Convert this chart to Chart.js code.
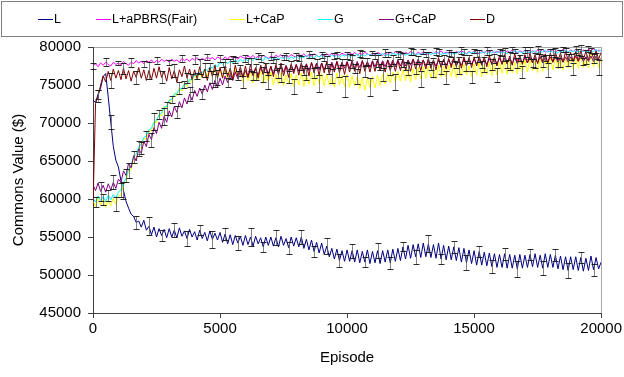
<!DOCTYPE html>
<html>
<head>
<meta charset="utf-8">
<script src="https://cdn.jsdelivr.net/npm/chart.js@4.4.0/dist/chart.umd.min.js"></script>
<style>
    body { margin: 0; background: #fff; }
    #wrap { position: relative; width: 624px; height: 377px; }
    #chart { position: absolute; left: 0; top: 0; }
    #legend {
        position: absolute; left: 1px; top: 1px; width: 622px; height: 36px;
        box-sizing: border-box; border: 1px solid #808080;
        font: 12.5px "Liberation Sans", Arial, sans-serif; color: #000;
    }
    .item { position: absolute; top: 9px; height: 16px; display: flex; align-items: center; white-space: nowrap; }
    .swatch { flex: none; width: 15px; height: 1px; margin-right: 1px; }
</style>
</head>
<body>
<div id="wrap">
    <canvas id="chart" width="624" height="377"></canvas>
    <div id="legend"></div>
</div>
<script>
// Datos (un punto cada 100 episodios, 0..20000)
const STEP = 100;
const seriesNames = ['L', 'L+aPBRS(Fair)', 'L+CaP', 'G', 'G+CaP', 'D'];
const seriesColors = ['#000080', '#ff00ff', '#ffff00', '#00ffff', '#800080', '#800000'];
const xTicks = [0, 5000, 10000, 15000, 20000];
const yTicks = [45000, 50000, 55000, 60000, 65000, 70000, 75000, 80000];

const valL = [
    73000, 72700, 73800, 74600, 76100, 76500, 73400, 70100, 66900, 65100,
    64200, 62400, 61100, 59700, 58800, 58000, 57700, 56900, 57100, 56300,
    57200, 55900, 56400, 55300, 56300, 55000, 56100, 55200, 56000, 54900,
    56100, 55000, 55900, 54900, 56200, 55100, 55800, 54800, 56000, 55000,
    55700, 54600, 55900, 54800, 55600, 54500, 55800, 54700, 55500, 54600,
    55600, 54300, 55400, 54100, 55300, 54000, 55200, 54200, 55100, 53900,
    55200, 54000, 55000, 53800, 55100, 54100, 54900, 53700, 55000, 53900,
    55000, 53800, 54900, 53700, 55100, 53900, 54800, 53600, 55000, 53800,
    54900, 53700, 55000, 53500, 54700, 53300, 54600, 53100, 54300, 52900,
    54200, 52700, 53800, 52400, 53500, 52100, 53400, 51900, 53200, 51800,
    53300, 51800, 53200, 51700, 53300, 51600, 53100, 51700, 53300, 51500,
    53100, 51600, 53200, 51500, 53200, 51700, 53300, 51600, 53400, 51800,
    53500, 51900, 53700, 52100, 53900, 52200, 54000, 52400, 54100, 52300,
    54200, 52400, 54100, 52300, 54000, 52200, 54200, 52100, 53900, 52000,
    53800, 52000, 53700, 51900, 53600, 51700, 53500, 51600, 53300, 51500,
    53200, 51300, 53100, 51300, 53000, 51200, 52900, 51100, 52800, 51000,
    52700, 51000, 52800, 50900, 52700, 50900, 52600, 50800, 52700, 50900,
    52600, 51000, 52700, 51100, 52800, 51000, 52600, 50900, 52800, 51000,
    52700, 51000, 52600, 50800, 52500, 50700, 52400, 50600, 52400, 50700,
    52400, 50600, 52300, 50500, 52200, 50600, 52500, 50700, 52300, 50800,
    51700
];
const valPBRS = [
    77500, 77800, 77400, 77900, 77600, 78000, 77700, 77500, 78000, 77700,
    77900, 77600, 78100, 77800, 77600, 78000, 77800, 78200, 77900, 78100,
    77800, 78200, 78000, 78300, 77900, 78200, 78000, 78400, 78100, 78300,
    78000, 78400, 78100, 78300, 78000, 78500, 78200, 78400, 78100, 78500,
    78300, 78600, 78200, 78500, 78300, 78700, 78400, 78600, 78300, 78700,
    78500, 78300, 78700, 78400, 78800, 78500, 78700, 78400, 78800, 78600,
    78500, 78800, 78600, 78900, 78500, 78800, 78600, 78900, 78700, 78500,
    78800, 78600, 78900, 78700, 79000, 78600, 78900, 78700, 79000, 78800,
    78700, 79000, 78800, 79100, 78700, 79000, 78800, 79100, 78900, 78700,
    79000, 78800, 79100, 78900, 79200, 78800, 79100, 78900, 79200, 79000,
    78900, 79200, 79000, 79300, 78900, 79200, 79000, 79300, 79100, 78900,
    79200, 79000, 79300, 79100, 78900, 79200, 79000, 79300, 79100, 79400,
    79100, 79300, 79000, 79300, 79100, 79400, 79200, 79000, 79300, 79100,
    79400, 79200, 79000, 79300, 79100, 79400, 79200, 79500, 79100, 79300,
    79200, 79400, 79100, 79400, 79200, 79500, 79300, 79100, 79400, 79200,
    79500, 79300, 79100, 79400, 79200, 79500, 79300, 79600, 79200, 79400,
    79300, 79500, 79200, 79500, 79300, 79600, 79400, 79200, 79500, 79300,
    79600, 79400, 79200, 79500, 79300, 79600, 79400, 79700, 79300, 79500,
    79400, 79600, 79300, 79600, 79400, 79700, 79500, 79300, 79600, 79400,
    79700, 79500, 79300, 79600, 79400, 79700, 79500, 79800, 79400, 79600,
    79500
];
const valCaP = [
    59700, 59000, 60200, 59200, 59900, 58900, 59800, 59100, 60100, 59300,
    60400, 60600, 62100, 62200, 63800, 63800, 65400, 65300, 66800, 66700,
    68000, 67800, 69100, 68900, 70200, 70000, 71200, 70900, 72200, 71900,
    73100, 72800, 73900, 73600, 74600, 74200, 75300, 74800, 75800, 75300,
    76400, 75700, 76800, 75900, 77000, 76100, 77300, 76200, 77100, 76000,
    77200, 75900, 77300, 75700, 77100, 75600, 77200, 75800, 76900, 75400,
    76900, 75500, 76800, 75300, 76700, 75600, 76900, 75200, 76500, 75400,
    76700, 75000, 76400, 75100, 76600, 74900, 76300, 75200, 76500, 74800,
    76300, 75000, 76600, 74800, 76400, 75100, 76700, 74900, 76300, 75200,
    76500, 74900, 76400, 75000, 76200, 74700, 76600, 75000, 76300, 74800,
    76400, 74700, 76200, 74900, 76100, 74500, 76000, 74300, 75900, 74700,
    76100, 74600, 76300, 74900, 76400, 75100, 76500, 75300, 76700, 75400,
    76800, 75500, 77000, 75600, 77100, 75400, 77200, 75700, 77300, 75800,
    77400, 75900, 77500, 76000, 77300, 75800, 77600, 76100, 77500, 76000,
    77600, 76100, 77700, 75900, 77600, 76200, 77800, 76300, 77500, 76100,
    77800, 76300, 77900, 76100, 77700, 76400, 78000, 76200, 77800, 76300,
    78000, 76500, 78100, 76400, 78200, 76600, 78000, 76500, 78200, 76700,
    78300, 76700, 78400, 76900, 78200, 76600, 78500, 76800, 78400, 77000,
    78600, 77000, 78700, 77100, 78500, 77000, 78700, 77200, 78600, 77100,
    78800, 77200, 78900, 77300, 78700, 77200, 79000, 77400, 78900, 77300,
    78600
];
const valG = [
    60100, 59600, 60400, 59800, 60300, 59700, 60500, 59900, 60600, 60200,
    60900, 61200, 62200, 62700, 63900, 64400, 65500, 65900, 66900, 67200,
    68100, 68300, 69100, 69300, 70100, 70300, 71100, 71300, 72100, 72200,
    73000, 73100, 73800, 73900, 74500, 74500, 75100, 75100, 75700, 75700,
    76300, 76200, 76700, 76600, 77100, 76900, 77400, 77200, 77700, 77400,
    78000, 77700, 78100, 77800, 78200, 77900, 78300, 78000, 78400, 78100,
    78400, 78200, 78500, 78200, 78600, 78300, 78500, 78200, 78700, 78400,
    78600, 78300, 78700, 78400, 78600, 78500, 78800, 78400, 78700, 78500,
    78800, 78500, 78700, 78600, 78900, 78600, 78800, 78500, 78900, 78700,
    78900, 78600, 78800, 78700, 79000, 78700, 78900, 78600, 79000, 78800,
    79000, 78700, 78900, 78800, 79100, 78700, 79000, 78800, 79100, 78900,
    79000, 78800, 79100, 78900, 79200, 78800, 79000, 78900, 79200, 79000,
    79100, 78900, 79200, 78900, 79100, 79000, 79300, 78900, 79100, 79000,
    79200, 79000, 79300, 79000, 79200, 79100, 79300, 79000, 79200, 79100,
    79300, 79000, 79200, 79100, 79400, 79100, 79300, 79000, 79300, 79200,
    79400, 79100, 79300, 79200, 79400, 79100, 79300, 79200, 79500, 79200,
    79400, 79200, 79300, 79100, 79400, 79200, 79500, 79300, 79400, 79200,
    79500, 79200, 79400, 79300, 79500, 79200, 79400, 79300, 79600, 79300,
    79500, 79300, 79400, 79200, 79500, 79300, 79600, 79300, 79500, 79400,
    79600, 79300, 79500, 79400, 79600, 79300, 79500, 79400, 79700, 79400,
    79600
];
const valGCaP = [
    61900, 61100, 62100, 61000, 61800, 60900, 62000, 61200, 62200, 61400,
    62600, 62200, 63700, 63100, 64700, 64100, 65700, 65000, 66600, 66000,
    67600, 66900, 68500, 67800, 69400, 68600, 70100, 69300, 70900, 70100,
    71600, 70800, 72200, 71400, 72800, 72000, 73300, 72500, 73800, 73000,
    74300, 73500, 74600, 73800, 75000, 74100, 75300, 74400, 75600, 74700,
    75900, 75000, 76200, 75300, 76500, 75600, 76700, 75800, 76900, 76000,
    76900, 76000, 77100, 76200, 77100, 76300, 77300, 76400, 77300, 76500,
    77400, 76500, 77500, 76600, 77500, 76700, 77600, 76700, 77600, 76800,
    77700, 76800, 77800, 76900, 77800, 76900, 77900, 77000, 77900, 77000,
    77900, 77000, 78000, 77100, 78000, 77100, 78100, 77100, 78000, 77200,
    78100, 77200, 78200, 77200, 78100, 77300, 78200, 77300, 78100, 77300,
    78200, 77400, 78300, 77400, 78200, 77400, 78300, 77500, 78300, 77400,
    78300, 77500, 78400, 77500, 78300, 77600, 78400, 77600, 78400, 77600,
    78300, 77500, 78300, 77500, 78200, 77500, 78300, 77500, 78300, 77600,
    78300, 77600, 78400, 77600, 78300, 77600, 78400, 77600, 78400, 77700,
    78400, 77700, 78500, 77700, 78400, 77700, 78500, 77700, 78500, 77800,
    78500, 77800, 78500, 77800, 78500, 77800, 78600, 77800, 78500, 77900,
    78600, 77900, 78600, 77900, 78600, 77900, 78700, 77900, 78600, 78000,
    78700, 78000, 78700, 78000, 78600, 78000, 78700, 78000, 78700, 78100,
    78800, 78100, 78800, 78100, 78700, 78100, 78800, 78100, 78800, 78200,
    78500
];
const valD = [
    59000, 72600, 73500, 75000, 76200, 75400, 76800, 75600, 77100, 75900,
    76900, 75700, 77200, 75800, 76900, 75500, 76800, 76000, 77300, 75900,
    77000, 75600, 76900, 75700, 77200, 75900, 77400, 76000, 76800, 75500,
    77300, 75800, 76900, 75400, 77000, 76100, 77500, 75900, 77100, 75700,
    77000, 75800, 77400, 76000, 77100, 75600, 77300, 76100, 77600, 75900,
    77300, 75900, 77500, 76100, 77200, 75800, 77600, 76200, 77400, 76000,
    77500, 76000, 77700, 76300, 77300, 75900, 77600, 76400, 77800, 76100,
    77500, 76100, 77700, 76400, 77900, 76200, 77500, 76000, 77800, 76500,
    77700, 76300, 77900, 76500, 77700, 76200, 78000, 76600, 77800, 76300,
    77900, 76600, 78000, 76400, 77800, 76700, 78100, 76600, 77900, 76400,
    78000, 76700, 78100, 76800, 77900, 76500, 78200, 76800, 78000, 76700,
    78100, 76800, 78200, 76900, 78000, 76700, 78300, 76900, 78100, 76800,
    78200, 76900, 78300, 77000, 78100, 76800, 78400, 77100, 78200, 76900,
    78300, 77100, 78500, 77200, 78300, 77000, 78600, 77300, 78400, 77100,
    78500, 77300, 78700, 77400, 78500, 77200, 78700, 77500, 78600, 77300,
    78700, 77500, 78800, 77600, 78700, 77400, 78900, 77700, 78700, 77500,
    78900, 77700, 79000, 77800, 78800, 77600, 79100, 77900, 78900, 77700,
    79000, 77900, 79200, 78000, 79000, 77800, 79300, 78100, 79100, 77900,
    79200, 78000, 79300, 78200, 79200, 78000, 79400, 78300, 79300, 78100,
    79400, 78200, 79500, 78400, 79400, 78300, 79600, 78500, 79500, 78400,
    79300
];

// Barras de error: una cada 500 episodios, desfasadas por serie
const errOffset = [2, 0, 4, 1, 3, 2];
const errL = [600, 900, 1100, 800, 1200, 700, 900, 1000, 700, 1100, 800, 900, 1200, 700, 1000, 800, 900, 700, 1100, 800,
              900, 700, 1000, 800, 600, 900, 1100, 700, 800, 1000, 700, 900, 800, 1000, 700, 900, 800, 1000, 700, 800];
const errPBRS = [400, 500, 300, 600, 400, 500, 350, 450, 600, 400, 500, 350, 450, 400, 550, 300, 450, 500, 400, 350,
                 500, 450, 300, 550, 400, 450, 350, 500, 400, 450, 300, 500, 400, 350, 450, 500, 400, 300, 450, 400];
const errCaP = [700, 900, 1000, 800, 1100, 900, 800, 1200, 900, 1000, 1300, 800, 1100, 900, 1200, 1000, 800, 1100, 900, 1400,
                1000, 1200, 900, 1100, 800, 1000, 1200, 900, 1100, 800, 1000, 900, 1200, 800, 1000, 900, 1100, 800, 900, 1000];
const errG = [600, 700, 900, 800, 700, 600, 500, 450, 400, 500, 350, 450, 400, 500, 350, 450, 400, 300, 450, 400,
              350, 500, 400, 300, 450, 400, 350, 450, 300, 400, 450, 350, 400, 300, 450, 350, 400, 300, 400, 350];
const errGCaP = [1200, 900, 800, 1000, 900, 1100, 800, 900, 700, 800, 600, 700, 500, 600, 700, 500, 600, 500, 700, 400,
                 600, 500, 400, 600, 500, 400, 500, 600, 400, 500, 400, 600, 500, 400, 500, 400, 600, 400, 500, 400];
const errD = [800, 1000, 700, 900, 1100, 800, 900, 700, 1000, 800, 900, 600, 800, 1000, 700, 800, 900, 700, 800, 600,
              900, 700, 800, 600, 900, 700, 800, 900, 600, 700, 800, 700, 900, 600, 800, 700, 600, 800, 700, 600];

const allSeries = [valL, valPBRS, valCaP, valG, valGCaP, valD];
const allErrors = [errL, errPBRS, errCaP, errG, errGCaP, errD];

const FONT = '"Liberation Sans", Arial, sans-serif';

// Leyenda HTML (posición x de cada entrada dentro del recuadro)
const legendX = [36, 94, 228, 316, 377, 468];
const legend = document.getElementById('legend');
seriesNames.forEach((name, i) => {
    const item = document.createElement('div');
    item.className = 'item';
    item.style.left = legendX[i] + 'px';
    const sw = document.createElement('span');
    sw.className = 'swatch';
    sw.style.backgroundColor = seriesColors[i];
    item.appendChild(sw);
    item.appendChild(document.createTextNode(name));
    legend.appendChild(item);
});

// Barras de error: tallo gris y remates oscuros
const errorBars = {
    id: 'errorBars',
    afterDatasetsDraw(chart) {
        const { ctx, scales: { x, y } } = chart;
        ctx.save();
        ctx.lineWidth = 1;
        allErrors.forEach((errs, s) => {
            const vals = allSeries[s];
            errs.forEach((e, k) => {
                const i = errOffset[s] + 5 * k;
                if (i >= vals.length) return;
                const px = Math.round(x.getPixelForValue(i * STEP)) + 0.5;
                const top = Math.round(y.getPixelForValue(vals[i] + e)) + 0.5;
                const bot = Math.round(y.getPixelForValue(vals[i] - e)) + 0.5;
                ctx.strokeStyle = 'rgba(90, 90, 90, 0.75)';
                ctx.beginPath();
                ctx.moveTo(px, top); ctx.lineTo(px, bot);
                ctx.stroke();
                ctx.strokeStyle = 'rgba(20, 20, 20, 0.9)';
                ctx.beginPath();
                ctx.moveTo(px - 3, top); ctx.lineTo(px + 3, top);
                ctx.moveTo(px - 3, bot); ctx.lineTo(px + 3, bot);
                ctx.stroke();
            });
        });
        ctx.restore();
    }
};

const datasets = allSeries.map((vals, s) => ({
    label: seriesNames[s],
    data: vals.map((v, i) => ({ x: i * STEP, y: v })),
    borderColor: seriesColors[s],
    backgroundColor: seriesColors[s],
    borderWidth: 1,
    pointRadius: 0,
    tension: 0,
    order: allSeries.length - s
}));

new Chart(document.getElementById('chart'), {
    type: 'line',
    data: { datasets },
    plugins: [errorBars],
    options: {
        responsive: false,
        animation: false,
        devicePixelRatio: 1,
        layout: { padding: { top: 47, right: 21, left: 0, bottom: 0 } },
        plugins: { legend: { display: false }, tooltip: { enabled: false } },
        scales: {
            x: {
                type: 'linear',
                min: 0,
                max: 20000,
                afterBuildTicks: (scale) => { scale.ticks = xTicks.map(v => ({ value: v })); },
                afterFit: (scale) => { scale.height = 64; },
                ticks: {
                    color: '#000',
                    font: { family: FONT, size: 15 },
                    padding: 2,
                    maxRotation: 0,
                    callback: v => String(v)
                },
                grid: {
                    color: ctx => (ctx.tick && ctx.tick.value === 20000) ? '#a6a6a6' : 'rgba(0,0,0,0)',
                    tickColor: '#404040',
                    tickLength: 5
                },
                border: { color: '#404040' },
                title: {
                    display: true,
                    text: 'Episode',
                    color: '#000',
                    font: { family: FONT, size: 15 },
                    padding: 10
                }
            },
            y: {
                min: 45000,
                max: 80000,
                afterBuildTicks: (scale) => { scale.ticks = yTicks.map(v => ({ value: v })); },
                afterFit: (scale) => { scale.width = 93; },
                ticks: {
                    color: '#000',
                    font: { family: FONT, size: 15 },
                    padding: 7,
                    callback: v => String(v)
                },
                grid: {
                    color: ctx => (ctx.tick && ctx.tick.value === 80000) ? '#a6a6a6' : 'rgba(0,0,0,0)',
                    tickColor: '#404040',
                    tickLength: 5
                },
                border: { color: '#404040' },
                title: {
                    display: true,
                    text: 'Commons Value ($)',
                    color: '#000',
                    font: { family: FONT, size: 15 },
                    padding: 10
                }
            }
        }
    }
});
</script>
</body>
</html>
